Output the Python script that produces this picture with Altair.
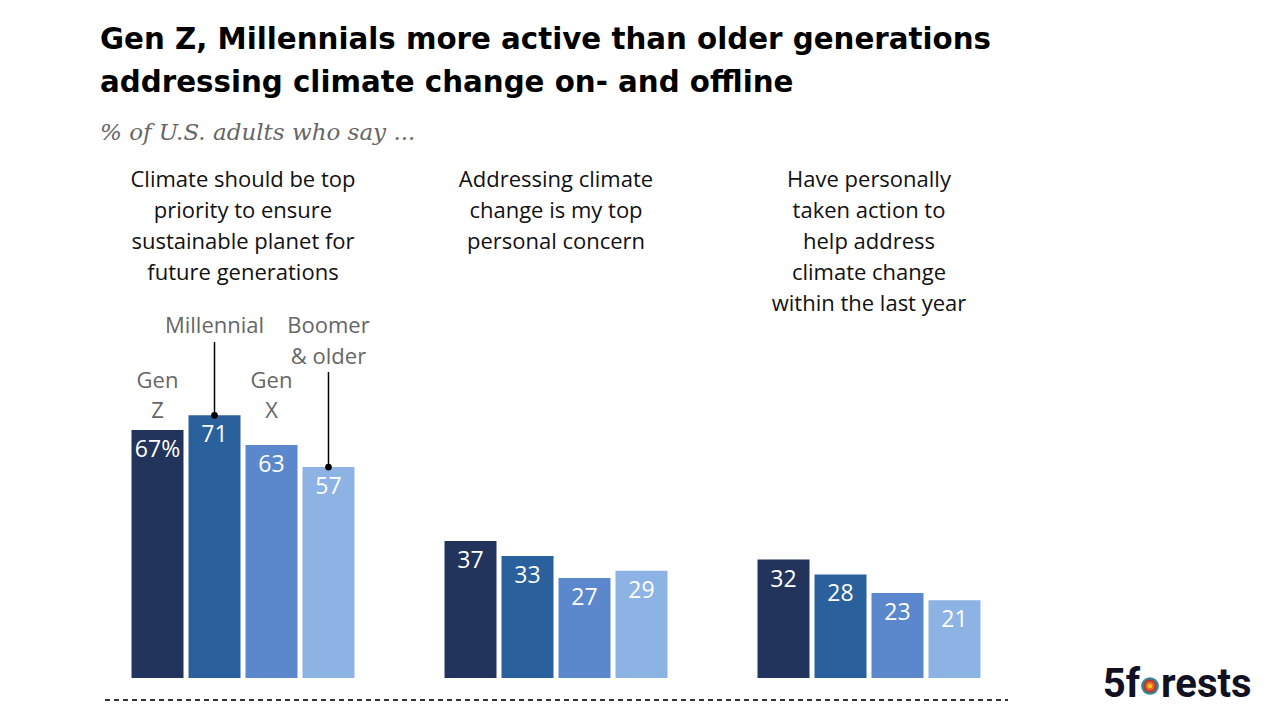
import altair as alt
import pandas as pd

# ---- data ----
groups = ["priority", "concern", "action"]
group_titles = [
    "Climate should be top\npriority to ensure\nsustainable planet for\nfuture generations",
    "Addressing climate\nchange is my top\npersonal concern",
    "Have personally\ntaken action to\nhelp address\nclimate change\nwithin the last year",
]
generations = ["Gen Z", "Millennial", "Gen X", "Boomer & older"]
gen_labels = ["Gen\nZ", "Millennial", "Gen\nX", "Boomer\n& older"]
values_priority = [67, 71, 63, 57]
values_concern = [37, 33, 27, 29]
values_action = [32, 28, 23, 21]
colors = ["#22335c", "#2a609c", "#5b88cc", "#8cb3e3"]

rows = []
for g, vals in zip(groups, [values_priority, values_concern, values_action]):
    for i, (gen, v) in enumerate(zip(generations, vals)):
        label = f"{v}%" if (g == groups[0] and i == 0) else str(v)
        rows.append({"group": g, "gen": gen, "value": v, "label": label})
df = pd.DataFrame(rows)

titles_df = pd.DataFrame({"group": groups, "title": group_titles})
genlab_df = pd.DataFrame({"group": [groups[0]] * 4, "gen": generations, "text": gen_labels})
first_df = df[df["group"] == groups[0]]

x_enc = alt.X("group:N", sort=groups, axis=None,
              scale=alt.Scale(domain=groups, paddingInner=0.2716, paddingOuter=0))
xo_enc = alt.XOffset("gen:N", sort=generations,
                     scale=alt.Scale(domain=generations, paddingInner=0.0877, paddingOuter=0.044))
y_enc = alt.Y("value:Q", axis=None, scale=alt.Scale(domain=[0, 100]))

FONT = "Roboto"
LFONT = "Open Sans"
L = 129  # left padding (plot origin x)

bars = alt.Chart(df).mark_bar().encode(
    x=x_enc, xOffset=xo_enc, y=y_enc,
    color=alt.Color("gen:N", sort=generations, legend=None,
                    scale=alt.Scale(domain=generations, range=colors)),
)

values_txt = alt.Chart(df).mark_text(
    baseline="middle", align="center", dy=20, fontSize=23, color="white", font=LFONT
).encode(x=x_enc, xOffset=xo_enc, y=y_enc, text="label:N")

group_txt = alt.Chart(titles_df).mark_text(
    baseline="top", align="center", fontSize=22, lineHeight=31, lineBreak="\n",
    color="#111111", font=LFONT
).encode(x=x_enc, y=alt.value(-138), text="title:N")

gen_low = alt.Chart(genlab_df).transform_filter(
    alt.FieldOneOfPredicate(field="gen", oneOf=["Gen Z", "Gen X"])
).mark_text(
    baseline="top", align="center", fontSize=22, lineHeight=30, lineBreak="\n",
    color="#666666", font=LFONT
).encode(x=x_enc, xOffset=xo_enc, y=alt.value(63), text="text:N")

gen_high = alt.Chart(genlab_df).transform_filter(
    alt.FieldOneOfPredicate(field="gen", oneOf=["Millennial", "Boomer & older"])
).mark_text(
    baseline="top", align="center", fontSize=22, lineHeight=31, lineBreak="\n",
    color="#666666", font=LFONT
).encode(x=x_enc, xOffset=xo_enc, y=alt.value(7.5), text="text:N")

lead_mill = alt.Chart(first_df).transform_filter(
    alt.datum.gen == "Millennial"
).mark_rule(color="black", strokeWidth=1.5).encode(
    x=x_enc, xOffset=xo_enc, y=y_enc, y2=alt.value(34))

lead_boom = alt.Chart(first_df).transform_filter(
    alt.datum.gen == "Boomer & older"
).mark_rule(color="black", strokeWidth=1.5).encode(
    x=x_enc, xOffset=xo_enc, y=y_enc, y2=alt.value(64))

dots = alt.Chart(first_df).transform_filter(
    alt.FieldOneOfPredicate(field="gen", oneOf=["Millennial", "Boomer & older"])
).mark_circle(color="black", opacity=1, size=45).encode(
    x=x_enc, xOffset=xo_enc, y=y_enc)

title1 = alt.Chart(pd.DataFrame({"t": ["Gen Z, Millennials more active than older generations"]})).mark_text(
    align="left", baseline="alphabetic", fontSize=29.3, fontWeight="bold", font="DejaVu Sans", color="black"
).encode(x=alt.value(100 - L), y=alt.value(-259), text="t:N")
title2 = alt.Chart(pd.DataFrame({"t": ["addressing climate change on- and offline"]})).mark_text(
    align="left", baseline="alphabetic", fontSize=29.3, fontWeight="bold", font="DejaVu Sans", color="black"
).encode(x=alt.value(100 - L), y=alt.value(-216), text="t:N")
subtitle = alt.Chart(pd.DataFrame({"t": ["% of U.S. adults who say ..."]})).mark_text(
    align="left", baseline="alphabetic", fontSize=23, fontStyle="italic", font="DejaVu Serif", color="#666666"
).encode(x=alt.value(100 - L), y=alt.value(-168), text="t:N")

baseline_rule = alt.Chart(pd.DataFrame({"a": [0]})).mark_rule(
    color="#333333", strokeWidth=2, strokeDash=[5, 4]
).encode(x=alt.value(105 - L), x2=alt.value(1008 - L), y=alt.value(392))

logo_a = alt.Chart(pd.DataFrame({"t": ["5f"]})).mark_text(
    align="right", baseline="alphabetic", fontSize=40, fontWeight="bold", font=FONT, color="#111122"
).encode(x=alt.value(1140 - L), y=alt.value(389), text="t:N")
logo_b = alt.Chart(pd.DataFrame({"t": ["rests"]})).mark_text(
    align="left", baseline="alphabetic", fontSize=40, fontWeight="bold", font=FONT, color="#111122"
).encode(x=alt.value(1161 - L), y=alt.value(389), text="t:N")
rings = []
for r, c in [(10, "#2a8b9c"), (7.5, "#b83a2c"), (5, "#e8672a"), (2.6, "#f6c51b")]:
    rings.append(alt.Chart(pd.DataFrame({"a": [0]})).mark_circle(
        color=c, opacity=1, size=3.1416 * r * r
    ).encode(x=alt.value(1150 - L), y=alt.value(378)))

chart = alt.layer(
    bars, values_txt, group_txt, gen_low, gen_high, lead_mill, lead_boom, dots,
    title1, title2, subtitle, baseline_rule, logo_a, logo_b, *rings
).properties(
    width=854, height=370,
    autosize=alt.AutoSizeParams(type="none"),
    padding={"left": L, "top": 308, "right": 1280 - L - 854, "bottom": 42},
    background="white",
).configure_view(stroke=None)

chart.save("out.html", embed_options={"renderer": "svg", "actions": False})
